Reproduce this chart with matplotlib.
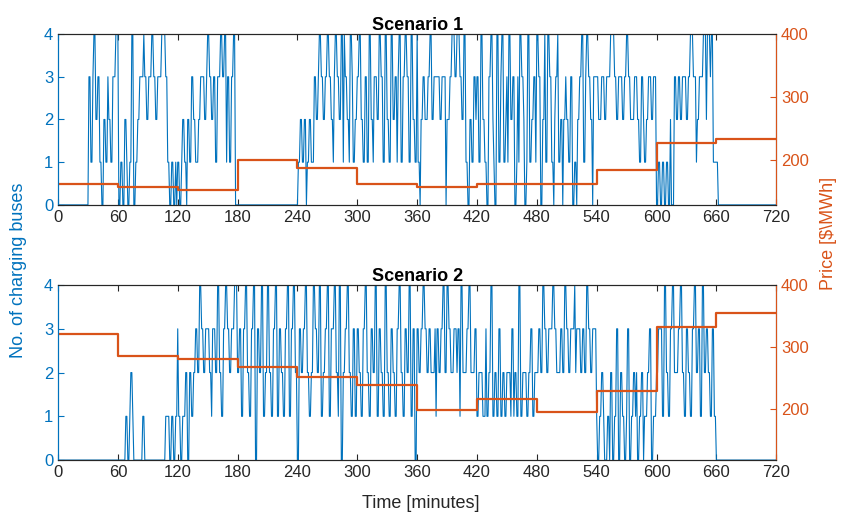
import numpy as np
import matplotlib
matplotlib.use("Agg")
import matplotlib.pyplot as plt

plt.rcParams['font.family'] = ['Liberation Sans', 'DejaVu Sans']

# number of charging buses, one digit per minute (0..719)
s1_hours = [
    "0000000000" "0000000000" "0000000000" "0331134422" "3311002211" "3221133344",
    "4001100221" "0011440011" "2233334332" "2333443322" "3333444433" "1100110010",
    "1100122110" "2211332211" "1223333223" "4433223311" "3334433441" "3311334400",
    "0000000000" "0000000000" "0000000000" "0000000000" "0000000000" "0000000000",
    "0112211220" "1122111332" "2344332233" "4433221344" "3322441433" "2214431122",
    "3344221133" "1144221333" "2244331144" "2211442233" "1344113344" "3311442211",
    "4110223322" "2334422333" "3332233330" "2223344433" "4443322441" "1002211332",
    "3311442211" "0033442100" "4411344112" "3144223300" "1314433200" "1441122331",
    "4433002241" "1443311023" "3411220223" "2211330011" "0223344113" "4433220333",
    "3322233322" "3333444433" "2233332233" "4433222233" "3221133211" "2233322333",
    "0011001100" "1100200033" "2233223333" "2233444333" "1223333444" "2444344111",
    "1100000000" "0000000000" "0000000000" "0000000000" "0000000000" "0000000000",
]
s2_hours = [
    "0000000000" "0000000000" "0000000000" "0000000000" "0000000000" "0000000000",
    "0000000011" "0012210000" "0000011000" "0000000000" "0000000011" "1100110011",
    "3110011122" "0022112233" "2244332233" "3322133322" "4422113344" "3322333444",
    "2233113344" "2211334400" "3322441122" "4422113344" "1133221133" "4411334422",
    "0033223344" "2211224433" "2244112233" "4411333442" "2144002233" "4422113311",
    "3322113344" "2211332244" "1133221144" "2211332211" "3344221133" "2244113300",
    "3322334433" "2233222231" "3322334422" "4433222333" "2331442222" "3344222233",
    "1122221113" "1122441122" "1133112211" "2222133122" "1144112222" "1122331122",
    "2233224433" "2233334433" "2222332244" "3322333342" "3333223322" "4433223333",
    "1001122100" "0110220011" "3300221100" "1330011221" "2001122011" "1223300111",
    "2233331144" "2211334422" "2233442211" "3322113344" "2233114422" "3322113311",
    "0000000000" "0000000000" "0000000000" "0000000000" "0000000000" "0000000000",
]

# hourly electricity price [$/MWh]
price1 = [162, 156, 151, 200, 186, 162, 157, 162, 162, 184, 227, 233]
price2 = [321, 285, 281, 268, 252, 239, 198, 216, 195, 229, 332, 355]

blue = '#0072BD'
orange = '#D95319'
grey = '#262626'

def buses(hours):
    s = "".join(hours) + "0"
    return np.array([int(c) for c in s])

fig = plt.figure(figsize=(8.41, 5.24), dpi=100)
boxes = [[0.069, 0.609, 0.854, 0.326], [0.069, 0.122, 0.854, 0.334]]
titles = ['Scenario 1', 'Scenario 2']
data = [(buses(s1_hours), price1, 128), (buses(s2_hours), price2, 118)]

hour_edges = np.arange(0, 721, 60)
for box, title, (b, p, pmin) in zip(boxes, titles, data):
    ax = fig.add_axes(box)
    t = np.arange(len(b))
    ax.plot(t, b, color=blue, lw=0.8)
    ax.set_xlim(0, 720)
    ax.set_ylim(0, 4)
    ax.set_xticks(np.arange(0, 721, 60))
    ax.set_yticks([0, 1, 2, 3, 4])
    ax.tick_params(axis='x', direction='in', top=True, colors=grey, labelsize=12, length=4)
    ax.tick_params(axis='y', direction='in', colors=blue, labelsize=12, length=4)
    ax.spines['left'].set_color(blue)
    ax.spines['top'].set_color(grey)
    ax.spines['bottom'].set_color(grey)
    ax.set_title(title, fontsize=13, fontweight='bold', pad=3)

    ax2 = ax.twinx()
    ax2.step(hour_edges, p + [p[-1]], where='post', color=orange, lw=1.6)
    ax2.set_ylim(pmin, 400)
    ax2.set_yticks([200, 300, 400])
    ax2.tick_params(axis='y', direction='in', colors=orange, labelsize=12, length=4)
    ax2.spines['right'].set_color(orange)
    ax2.spines['left'].set_color(blue)
    ax2.spines['top'].set_color(grey)
    ax2.spines['bottom'].set_color(grey)

fig.text(0.5, 0.022, 'Time [minutes]', ha='center', va='bottom', fontsize=13, color=grey)
fig.text(0.022, 0.485, 'No. of charging buses', rotation=90, ha='center', va='center',
         fontsize=13, color=blue)
fig.text(0.985, 0.555, 'Price [$\\MWh]', rotation=90, ha='center', va='center',
         fontsize=13, color=orange)

fig.savefig('out.png', dpi=100)
